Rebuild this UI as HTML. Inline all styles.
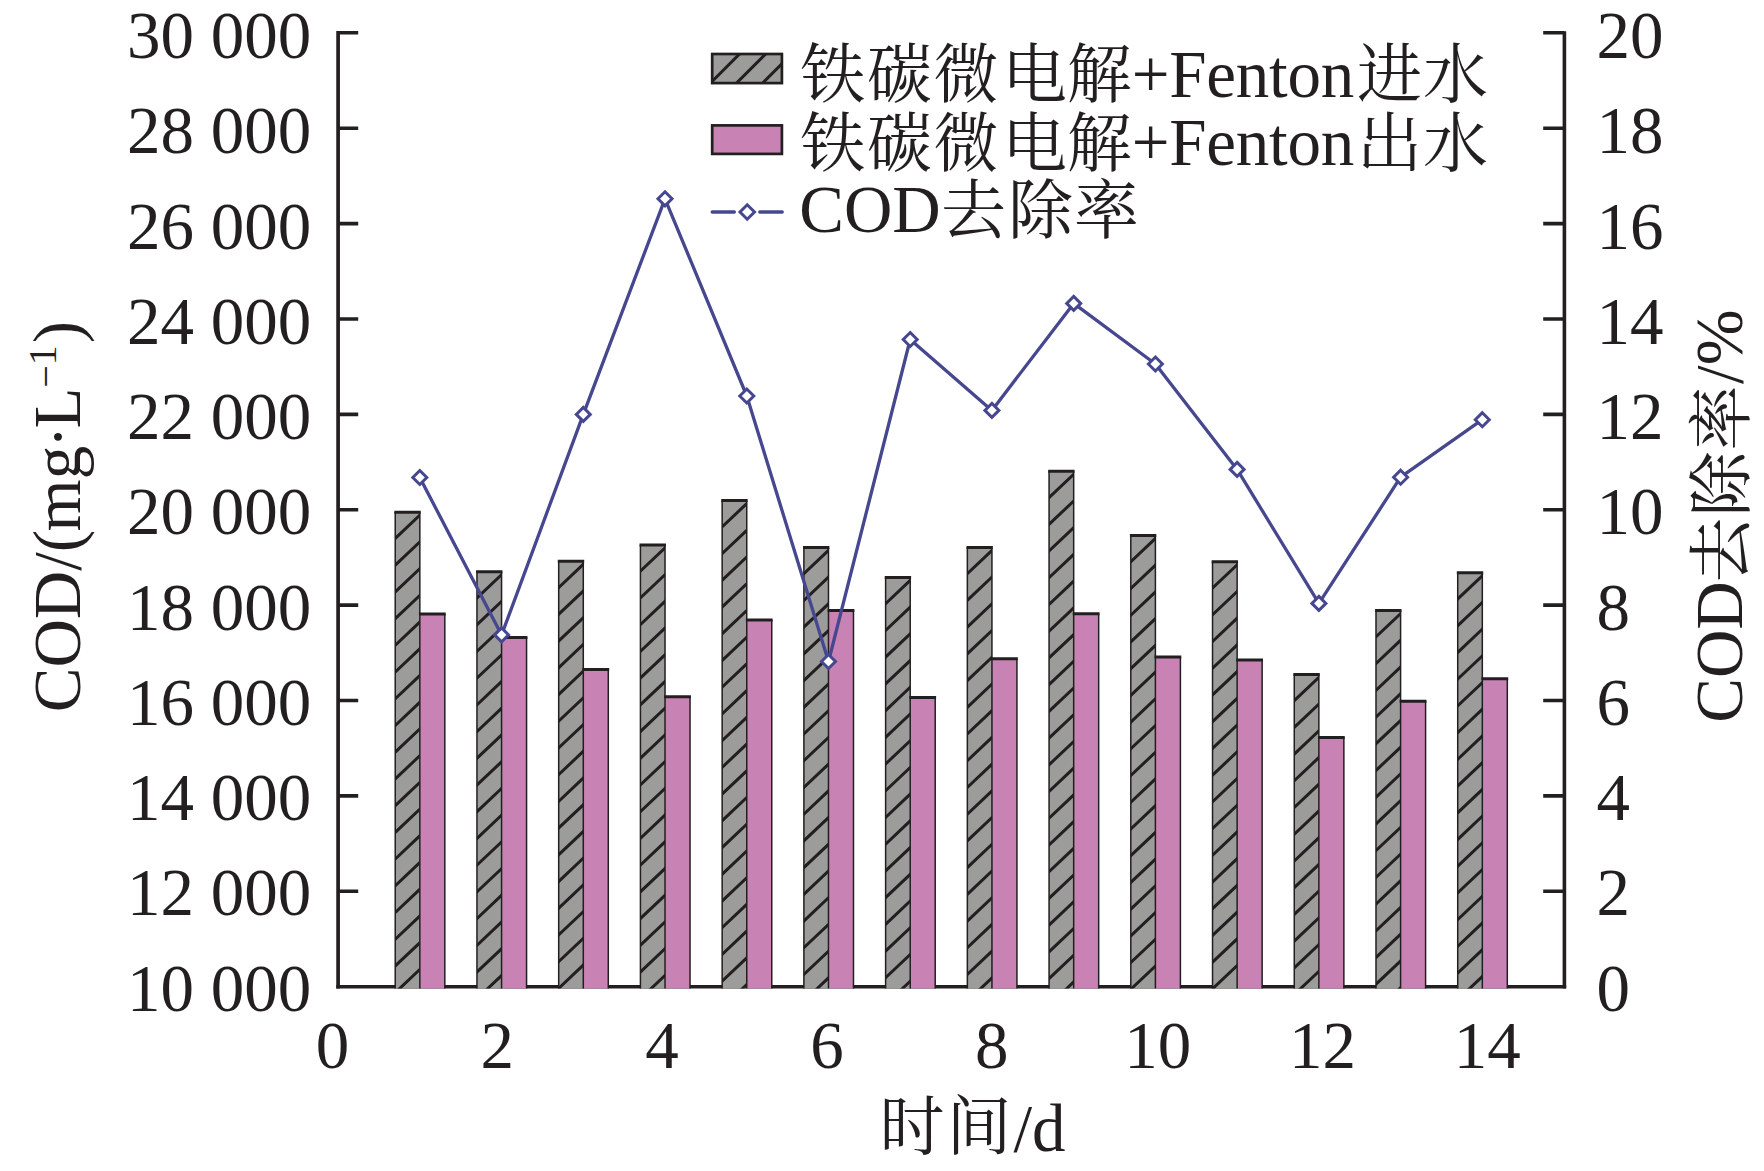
<!DOCTYPE html>
<html lang="zh"><head><meta charset="utf-8"><title>COD</title>
<style>html,body{margin:0;padding:0;background:#fff}body{width:1764px;height:1171px;overflow:hidden}svg{display:block}text{font-family:"Liberation Serif","Noto Serif CJK SC",serif;font-size:67px;fill:#231f20}.cj{font-size:65px}</style>
</head><body>
<svg width="1764" height="1171" viewBox="0 0 1764 1171">
<rect width="1764" height="1171" fill="#fff"/>
<g stroke="#231f20" fill="none" stroke-linecap="butt">
<path d="M338.1 31V988.4" stroke-width="3.7"/>
<path d="M1564.4 31.2V988.4" stroke-width="3.6"/>
<path d="M336.25 986.7H1566.2" stroke-width="3.5"/>
<path d="M338 891.3H358.2M1543.2 891.3H1564.4M338 795.9H358.2M1543.2 795.9H1564.4M338 700.5H358.2M1543.2 700.5H1564.4M338 605.1H358.2M1543.2 605.1H1564.4M338 509.8H358.2M1543.2 509.8H1564.4M338 414.4H358.2M1543.2 414.4H1564.4M338 319.0H358.2M1543.2 319.0H1564.4M338 223.6H358.2M1543.2 223.6H1564.4M338 128.2H358.2M1543.2 128.2H1564.4M338 32.8H358.2M1543.2 32.8H1564.4" stroke-width="3.6"/>
</g>
<defs>
<clipPath id="c0"><rect x="395.23" y="512.2" width="24.60" height="476.2"/></clipPath>
<clipPath id="c1"><rect x="476.96" y="571.7" width="24.60" height="416.7"/></clipPath>
<clipPath id="c2"><rect x="558.69" y="561.3" width="24.60" height="427.1"/></clipPath>
<clipPath id="c3"><rect x="640.42" y="544.9" width="24.60" height="443.5"/></clipPath>
<clipPath id="c4"><rect x="722.15" y="500.6" width="24.60" height="487.8"/></clipPath>
<clipPath id="c5"><rect x="803.88" y="547.4" width="24.60" height="441.0"/></clipPath>
<clipPath id="c6"><rect x="885.61" y="577.4" width="24.60" height="411.0"/></clipPath>
<clipPath id="c7"><rect x="967.34" y="547.4" width="24.60" height="441.0"/></clipPath>
<clipPath id="c8"><rect x="1049.07" y="471.3" width="24.60" height="517.1"/></clipPath>
<clipPath id="c9"><rect x="1130.80" y="535.5" width="24.60" height="452.9"/></clipPath>
<clipPath id="c10"><rect x="1212.53" y="561.8" width="24.60" height="426.6"/></clipPath>
<clipPath id="c11"><rect x="1294.26" y="674.4" width="24.60" height="314.0"/></clipPath>
<clipPath id="c12"><rect x="1375.99" y="610.6" width="24.60" height="377.8"/></clipPath>
<clipPath id="c13"><rect x="1457.72" y="572.7" width="24.60" height="415.7"/></clipPath>
</defs>
<g>
<rect x="395.23" y="512.2" width="24.60" height="476.2" fill="#9c9c9b"/>
<path d="M422.83 512.37L392.23 541.28M422.83 539.09L392.23 568.00M422.83 565.81L392.23 594.72M422.83 592.53L392.23 621.44M422.83 619.25L392.23 648.16M422.83 645.97L392.23 674.88M422.83 672.69L392.23 701.60M422.83 699.41L392.23 728.32M422.83 726.13L392.23 755.04M422.83 752.85L392.23 781.76M422.83 779.57L392.23 808.48M422.83 806.29L392.23 835.20M422.83 833.01L392.23 861.92M422.83 859.73L392.23 888.64M422.83 886.45L392.23 915.36M422.83 913.17L392.23 942.08M422.83 939.89L392.23 968.80M422.83 966.61L392.23 995.52M422.83 993.33L392.23 1022.24" stroke="#231f20" stroke-width="3" fill="none" clip-path="url(#c0)"/>
<rect x="419.83" y="614.0" width="25.00" height="374.4" fill="#c882b3"/>
<path d="M395.23 512.2V988.4M419.83 512.2V988.4M444.83 614.0V988.4" stroke="#231f20" stroke-width="1.5" fill="none"/>
<path d="M394.33 512.2H420.73M418.93 614.0H445.73" stroke="#231f20" stroke-width="3" fill="none"/>
</g>
<g>
<rect x="476.96" y="571.7" width="24.60" height="416.7" fill="#9c9c9b"/>
<path d="M504.56 571.87L473.96 600.78M504.56 598.59L473.96 627.50M504.56 625.31L473.96 654.22M504.56 652.03L473.96 680.94M504.56 678.75L473.96 707.66M504.56 705.47L473.96 734.38M504.56 732.19L473.96 761.10M504.56 758.91L473.96 787.82M504.56 785.63L473.96 814.54M504.56 812.35L473.96 841.26M504.56 839.07L473.96 867.98M504.56 865.79L473.96 894.70M504.56 892.51L473.96 921.42M504.56 919.23L473.96 948.14M504.56 945.95L473.96 974.86M504.56 972.67L473.96 1001.58M504.56 999.39L473.96 1028.30" stroke="#231f20" stroke-width="3" fill="none" clip-path="url(#c1)"/>
<rect x="501.56" y="637.6" width="25.00" height="350.8" fill="#c882b3"/>
<path d="M476.96 571.7V988.4M501.56 571.7V988.4M526.56 637.6V988.4" stroke="#231f20" stroke-width="1.5" fill="none"/>
<path d="M476.06 571.7H502.46M500.66 637.6H527.46" stroke="#231f20" stroke-width="3" fill="none"/>
</g>
<g>
<rect x="558.69" y="561.3" width="24.60" height="427.1" fill="#9c9c9b"/>
<path d="M586.29 561.46L555.69 590.38M586.29 588.18L555.69 617.10M586.29 614.90L555.69 643.82M586.29 641.62L555.69 670.54M586.29 668.35L555.69 697.26M586.29 695.07L555.69 723.98M586.29 721.79L555.69 750.70M586.29 748.51L555.69 777.42M586.29 775.23L555.69 804.14M586.29 801.95L555.69 830.86M586.29 828.67L555.69 857.58M586.29 855.39L555.69 884.30M586.29 882.11L555.69 911.02M586.29 908.83L555.69 937.74M586.29 935.55L555.69 964.46M586.29 962.27L555.69 991.18M586.29 988.99L555.69 1017.90M586.29 1015.71L555.69 1044.62" stroke="#231f20" stroke-width="3" fill="none" clip-path="url(#c2)"/>
<rect x="583.29" y="669.4" width="25.00" height="319.0" fill="#c882b3"/>
<path d="M558.69 561.3V988.4M583.29 561.3V988.4M608.29 669.4V988.4" stroke="#231f20" stroke-width="1.5" fill="none"/>
<path d="M557.79 561.3H584.19M582.39 669.4H609.19" stroke="#231f20" stroke-width="3" fill="none"/>
</g>
<g>
<rect x="640.42" y="544.9" width="24.60" height="443.5" fill="#9c9c9b"/>
<path d="M668.02 545.06L637.42 573.98M668.02 571.78L637.42 600.70M668.02 598.50L637.42 627.42M668.02 625.23L637.42 654.14M668.02 651.95L637.42 680.86M668.02 678.67L637.42 707.58M668.02 705.39L637.42 734.30M668.02 732.11L637.42 761.02M668.02 758.83L637.42 787.74M668.02 785.55L637.42 814.46M668.02 812.27L637.42 841.18M668.02 838.99L637.42 867.90M668.02 865.71L637.42 894.62M668.02 892.43L637.42 921.34M668.02 919.15L637.42 948.06M668.02 945.87L637.42 974.78M668.02 972.59L637.42 1001.50M668.02 999.31L637.42 1028.22" stroke="#231f20" stroke-width="3" fill="none" clip-path="url(#c3)"/>
<rect x="665.02" y="696.7" width="25.00" height="291.7" fill="#c882b3"/>
<path d="M640.42 544.9V988.4M665.02 544.9V988.4M690.02 696.7V988.4" stroke="#231f20" stroke-width="1.5" fill="none"/>
<path d="M639.52 544.9H665.92M664.12 696.7H690.92" stroke="#231f20" stroke-width="3" fill="none"/>
</g>
<g>
<rect x="722.15" y="500.6" width="24.60" height="487.8" fill="#9c9c9b"/>
<path d="M749.75 500.77L719.15 529.68M749.75 527.49L719.15 556.40M749.75 554.21L719.15 583.12M749.75 580.93L719.15 609.84M749.75 607.65L719.15 636.56M749.75 634.37L719.15 663.28M749.75 661.09L719.15 690.00M749.75 687.81L719.15 716.72M749.75 714.53L719.15 743.44M749.75 741.25L719.15 770.16M749.75 767.97L719.15 796.88M749.75 794.69L719.15 823.60M749.75 821.41L719.15 850.32M749.75 848.13L719.15 877.04M749.75 874.85L719.15 903.76M749.75 901.57L719.15 930.48M749.75 928.29L719.15 957.20M749.75 955.01L719.15 983.92M749.75 981.73L719.15 1010.64M749.75 1008.45L719.15 1037.36" stroke="#231f20" stroke-width="3" fill="none" clip-path="url(#c4)"/>
<rect x="746.75" y="620.1" width="25.00" height="368.3" fill="#c882b3"/>
<path d="M722.15 500.6V988.4M746.75 500.6V988.4M771.75 620.1V988.4" stroke="#231f20" stroke-width="1.5" fill="none"/>
<path d="M721.25 500.6H747.65M745.85 620.1H772.65" stroke="#231f20" stroke-width="3" fill="none"/>
</g>
<g>
<rect x="803.88" y="547.4" width="24.60" height="441.0" fill="#9c9c9b"/>
<path d="M831.48 547.56L800.88 576.48M831.48 574.28L800.88 603.20M831.48 601.00L800.88 629.92M831.48 627.73L800.88 656.64M831.48 654.45L800.88 683.36M831.48 681.17L800.88 710.08M831.48 707.89L800.88 736.80M831.48 734.61L800.88 763.52M831.48 761.33L800.88 790.24M831.48 788.05L800.88 816.96M831.48 814.77L800.88 843.68M831.48 841.49L800.88 870.40M831.48 868.21L800.88 897.12M831.48 894.93L800.88 923.84M831.48 921.65L800.88 950.56M831.48 948.37L800.88 977.28M831.48 975.09L800.88 1004.00M831.48 1001.81L800.88 1030.72" stroke="#231f20" stroke-width="3" fill="none" clip-path="url(#c5)"/>
<rect x="828.48" y="610.4" width="25.00" height="378.0" fill="#c882b3"/>
<path d="M803.88 547.4V988.4M828.48 547.4V988.4M853.48 610.4V988.4" stroke="#231f20" stroke-width="1.5" fill="none"/>
<path d="M802.98 547.4H829.38M827.58 610.4H854.38" stroke="#231f20" stroke-width="3" fill="none"/>
</g>
<g>
<rect x="885.61" y="577.4" width="24.60" height="411.0" fill="#9c9c9b"/>
<path d="M913.21 577.56L882.61 606.48M913.21 604.28L882.61 633.20M913.21 631.00L882.61 659.92M913.21 657.73L882.61 686.64M913.21 684.45L882.61 713.36M913.21 711.17L882.61 740.08M913.21 737.89L882.61 766.80M913.21 764.61L882.61 793.52M913.21 791.33L882.61 820.24M913.21 818.05L882.61 846.96M913.21 844.77L882.61 873.68M913.21 871.49L882.61 900.40M913.21 898.21L882.61 927.12M913.21 924.93L882.61 953.84M913.21 951.65L882.61 980.56M913.21 978.37L882.61 1007.28M913.21 1005.09L882.61 1034.00" stroke="#231f20" stroke-width="3" fill="none" clip-path="url(#c6)"/>
<rect x="910.21" y="697.4" width="25.00" height="291.0" fill="#c882b3"/>
<path d="M885.61 577.4V988.4M910.21 577.4V988.4M935.21 697.4V988.4" stroke="#231f20" stroke-width="1.5" fill="none"/>
<path d="M884.71 577.4H911.11M909.31 697.4H936.11" stroke="#231f20" stroke-width="3" fill="none"/>
</g>
<g>
<rect x="967.34" y="547.4" width="24.60" height="441.0" fill="#9c9c9b"/>
<path d="M994.94 547.56L964.34 576.48M994.94 574.28L964.34 603.20M994.94 601.00L964.34 629.92M994.94 627.73L964.34 656.64M994.94 654.45L964.34 683.36M994.94 681.17L964.34 710.08M994.94 707.89L964.34 736.80M994.94 734.61L964.34 763.52M994.94 761.33L964.34 790.24M994.94 788.05L964.34 816.96M994.94 814.77L964.34 843.68M994.94 841.49L964.34 870.40M994.94 868.21L964.34 897.12M994.94 894.93L964.34 923.84M994.94 921.65L964.34 950.56M994.94 948.37L964.34 977.28M994.94 975.09L964.34 1004.00M994.94 1001.81L964.34 1030.72" stroke="#231f20" stroke-width="3" fill="none" clip-path="url(#c7)"/>
<rect x="991.94" y="658.7" width="25.00" height="329.7" fill="#c882b3"/>
<path d="M967.34 547.4V988.4M991.94 547.4V988.4M1016.94 658.7V988.4" stroke="#231f20" stroke-width="1.5" fill="none"/>
<path d="M966.44 547.4H992.84M991.04 658.7H1017.84" stroke="#231f20" stroke-width="3" fill="none"/>
</g>
<g>
<rect x="1049.07" y="471.3" width="24.60" height="517.1" fill="#9c9c9b"/>
<path d="M1076.67 471.47L1046.07 500.38M1076.67 498.19L1046.07 527.10M1076.67 524.90L1046.07 553.82M1076.67 551.62L1046.07 580.54M1076.67 578.35L1046.07 607.26M1076.67 605.07L1046.07 633.98M1076.67 631.79L1046.07 660.70M1076.67 658.51L1046.07 687.42M1076.67 685.23L1046.07 714.14M1076.67 711.95L1046.07 740.86M1076.67 738.67L1046.07 767.58M1076.67 765.39L1046.07 794.30M1076.67 792.11L1046.07 821.02M1076.67 818.83L1046.07 847.74M1076.67 845.55L1046.07 874.46M1076.67 872.27L1046.07 901.18M1076.67 898.99L1046.07 927.90M1076.67 925.71L1046.07 954.62M1076.67 952.43L1046.07 981.34M1076.67 979.15L1046.07 1008.06M1076.67 1005.87L1046.07 1034.78" stroke="#231f20" stroke-width="3" fill="none" clip-path="url(#c8)"/>
<rect x="1073.67" y="613.8" width="25.00" height="374.6" fill="#c882b3"/>
<path d="M1049.07 471.3V988.4M1073.67 471.3V988.4M1098.67 613.8V988.4" stroke="#231f20" stroke-width="1.5" fill="none"/>
<path d="M1048.17 471.3H1074.57M1072.77 613.8H1099.57" stroke="#231f20" stroke-width="3" fill="none"/>
</g>
<g>
<rect x="1130.80" y="535.5" width="24.60" height="452.9" fill="#9c9c9b"/>
<path d="M1158.40 535.66L1127.80 564.58M1158.40 562.38L1127.80 591.30M1158.40 589.11L1127.80 618.02M1158.40 615.83L1127.80 644.74M1158.40 642.55L1127.80 671.46M1158.40 669.27L1127.80 698.18M1158.40 695.99L1127.80 724.90M1158.40 722.71L1127.80 751.62M1158.40 749.43L1127.80 778.34M1158.40 776.15L1127.80 805.06M1158.40 802.87L1127.80 831.78M1158.40 829.59L1127.80 858.50M1158.40 856.31L1127.80 885.22M1158.40 883.03L1127.80 911.94M1158.40 909.75L1127.80 938.66M1158.40 936.47L1127.80 965.38M1158.40 963.19L1127.80 992.10M1158.40 989.91L1127.80 1018.82" stroke="#231f20" stroke-width="3" fill="none" clip-path="url(#c9)"/>
<rect x="1155.40" y="657.0" width="25.00" height="331.4" fill="#c882b3"/>
<path d="M1130.80 535.5V988.4M1155.40 535.5V988.4M1180.40 657.0V988.4" stroke="#231f20" stroke-width="1.5" fill="none"/>
<path d="M1129.90 535.5H1156.30M1154.50 657.0H1181.30" stroke="#231f20" stroke-width="3" fill="none"/>
</g>
<g>
<rect x="1212.53" y="561.8" width="24.60" height="426.6" fill="#9c9c9b"/>
<path d="M1240.13 561.96L1209.53 590.88M1240.13 588.68L1209.53 617.60M1240.13 615.40L1209.53 644.32M1240.13 642.12L1209.53 671.04M1240.13 668.85L1209.53 697.76M1240.13 695.57L1209.53 724.48M1240.13 722.29L1209.53 751.20M1240.13 749.01L1209.53 777.92M1240.13 775.73L1209.53 804.64M1240.13 802.45L1209.53 831.36M1240.13 829.17L1209.53 858.08M1240.13 855.89L1209.53 884.80M1240.13 882.61L1209.53 911.52M1240.13 909.33L1209.53 938.24M1240.13 936.05L1209.53 964.96M1240.13 962.77L1209.53 991.68M1240.13 989.49L1209.53 1018.40" stroke="#231f20" stroke-width="3" fill="none" clip-path="url(#c10)"/>
<rect x="1237.13" y="659.9" width="25.00" height="328.5" fill="#c882b3"/>
<path d="M1212.53 561.8V988.4M1237.13 561.8V988.4M1262.13 659.9V988.4" stroke="#231f20" stroke-width="1.5" fill="none"/>
<path d="M1211.63 561.8H1238.03M1236.23 659.9H1263.03" stroke="#231f20" stroke-width="3" fill="none"/>
</g>
<g>
<rect x="1294.26" y="674.4" width="24.60" height="314.0" fill="#9c9c9b"/>
<path d="M1321.86 674.56L1291.26 703.48M1321.86 701.28L1291.26 730.20M1321.86 728.00L1291.26 756.92M1321.86 754.73L1291.26 783.64M1321.86 781.45L1291.26 810.36M1321.86 808.17L1291.26 837.08M1321.86 834.89L1291.26 863.80M1321.86 861.61L1291.26 890.52M1321.86 888.33L1291.26 917.24M1321.86 915.05L1291.26 943.96M1321.86 941.77L1291.26 970.68M1321.86 968.49L1291.26 997.40M1321.86 995.21L1291.26 1024.12" stroke="#231f20" stroke-width="3" fill="none" clip-path="url(#c11)"/>
<rect x="1318.86" y="737.6" width="25.00" height="250.8" fill="#c882b3"/>
<path d="M1294.26 674.4V988.4M1318.86 674.4V988.4M1343.86 737.6V988.4" stroke="#231f20" stroke-width="1.5" fill="none"/>
<path d="M1293.36 674.4H1319.76M1317.96 737.6H1344.76" stroke="#231f20" stroke-width="3" fill="none"/>
</g>
<g>
<rect x="1375.99" y="610.6" width="24.60" height="377.8" fill="#9c9c9b"/>
<path d="M1403.59 610.76L1372.99 639.68M1403.59 637.49L1372.99 666.40M1403.59 664.21L1372.99 693.12M1403.59 690.93L1372.99 719.84M1403.59 717.65L1372.99 746.56M1403.59 744.37L1372.99 773.28M1403.59 771.09L1372.99 800.00M1403.59 797.81L1372.99 826.72M1403.59 824.53L1372.99 853.44M1403.59 851.25L1372.99 880.16M1403.59 877.97L1372.99 906.88M1403.59 904.69L1372.99 933.60M1403.59 931.41L1372.99 960.32M1403.59 958.13L1372.99 987.04M1403.59 984.85L1372.99 1013.76M1403.59 1011.57L1372.99 1040.48" stroke="#231f20" stroke-width="3" fill="none" clip-path="url(#c12)"/>
<rect x="1400.59" y="701.2" width="25.00" height="287.2" fill="#c882b3"/>
<path d="M1375.99 610.6V988.4M1400.59 610.6V988.4M1425.59 701.2V988.4" stroke="#231f20" stroke-width="1.5" fill="none"/>
<path d="M1375.09 610.6H1401.49M1399.69 701.2H1426.49" stroke="#231f20" stroke-width="3" fill="none"/>
</g>
<g>
<rect x="1457.72" y="572.7" width="24.60" height="415.7" fill="#9c9c9b"/>
<path d="M1485.32 572.87L1454.72 601.78M1485.32 599.59L1454.72 628.50M1485.32 626.31L1454.72 655.22M1485.32 653.03L1454.72 681.94M1485.32 679.75L1454.72 708.66M1485.32 706.47L1454.72 735.38M1485.32 733.19L1454.72 762.10M1485.32 759.91L1454.72 788.82M1485.32 786.63L1454.72 815.54M1485.32 813.35L1454.72 842.26M1485.32 840.07L1454.72 868.98M1485.32 866.79L1454.72 895.70M1485.32 893.51L1454.72 922.42M1485.32 920.23L1454.72 949.14M1485.32 946.95L1454.72 975.86M1485.32 973.67L1454.72 1002.58M1485.32 1000.39L1454.72 1029.30" stroke="#231f20" stroke-width="3" fill="none" clip-path="url(#c13)"/>
<rect x="1482.32" y="678.8" width="25.00" height="309.6" fill="#c882b3"/>
<path d="M1457.72 572.7V988.4M1482.32 572.7V988.4M1507.32 678.8V988.4" stroke="#231f20" stroke-width="1.5" fill="none"/>
<path d="M1456.82 572.7H1483.22M1481.42 678.8H1508.22" stroke="#231f20" stroke-width="3" fill="none"/>
</g>
<polyline points="419.8,477.5 501.6,634.9 583.3,414.4 665.0,198.8 746.8,396.0 828.5,661.5 910.2,339.5 991.9,410.4 1073.7,303.4 1155.4,364.0 1237.1,469.4 1318.9,603.4 1400.6,477.2 1482.3,419.7" fill="none" stroke="#46478f" stroke-width="3.3" stroke-linejoin="round"/>
<path d="M419.8 470.5L426.8 477.5L419.8 484.5L412.8 477.5ZM501.6 627.9L508.6 634.9L501.6 641.9L494.6 634.9ZM583.3 407.4L590.3 414.4L583.3 421.4L576.3 414.4ZM665.0 191.8L672.0 198.8L665.0 205.8L658.0 198.8ZM746.8 389.0L753.8 396.0L746.8 403.0L739.8 396.0ZM828.5 654.5L835.5 661.5L828.5 668.5L821.5 661.5ZM910.2 332.5L917.2 339.5L910.2 346.5L903.2 339.5ZM991.9 403.4L998.9 410.4L991.9 417.4L984.9 410.4ZM1073.7 296.4L1080.7 303.4L1073.7 310.4L1066.7 303.4ZM1155.4 357.0L1162.4 364.0L1155.4 371.0L1148.4 364.0ZM1237.1 462.4L1244.1 469.4L1237.1 476.4L1230.1 469.4ZM1318.9 596.4L1325.9 603.4L1318.9 610.4L1311.9 603.4ZM1400.6 470.2L1407.6 477.2L1400.6 484.2L1393.6 477.2ZM1482.3 412.7L1489.3 419.7L1482.3 426.7L1475.3 419.7Z" fill="#fff" stroke="#46478f" stroke-width="3" stroke-linejoin="miter"/>
<text x="311.3" y="1010.6" text-anchor="end">10 000</text>
<text x="311.3" y="915.4" text-anchor="end">12 000</text>
<text x="311.3" y="820.1" text-anchor="end">14 000</text>
<text x="311.3" y="724.9" text-anchor="end">16 000</text>
<text x="311.3" y="629.6" text-anchor="end">18 000</text>
<text x="311.3" y="534.4" text-anchor="end">20 000</text>
<text x="311.3" y="439.2" text-anchor="end">22 000</text>
<text x="311.3" y="343.9" text-anchor="end">24 000</text>
<text x="311.3" y="248.7" text-anchor="end">26 000</text>
<text x="311.3" y="153.4" text-anchor="end">28 000</text>
<text x="311.3" y="58.2" text-anchor="end">30 000</text>
<text x="1596.5" y="1010.6">0</text>
<text x="1596.5" y="915.4">2</text>
<text x="1596.5" y="820.1">4</text>
<text x="1596.5" y="724.9">6</text>
<text x="1596.5" y="629.6">8</text>
<text x="1596.5" y="534.4">10</text>
<text x="1596.5" y="439.2">12</text>
<text x="1596.5" y="343.9">14</text>
<text x="1596.5" y="248.7">16</text>
<text x="1596.5" y="153.4">18</text>
<text x="1596.5" y="58.2">20</text>
<text x="332.5" y="1068.2" text-anchor="middle">0</text>
<text x="497.3" y="1068.2" text-anchor="middle">2</text>
<text x="662.1" y="1068.2" text-anchor="middle">4</text>
<text x="826.9" y="1068.2" text-anchor="middle">6</text>
<text x="991.7" y="1068.2" text-anchor="middle">8</text>
<text x="1157.7" y="1068.2" text-anchor="middle">10</text>
<text x="1322.5" y="1068.2" text-anchor="middle">12</text>
<text x="1487.3" y="1068.2" text-anchor="middle">14</text>
<text><tspan class="cj" x="879.5" y="1149.2">时</tspan><tspan class="cj" x="946.5" y="1149.2">间</tspan><tspan x="1013.5" y="1150.6">/d</tspan></text>
<text transform="translate(80.2 712.3) rotate(-90)"><tspan x="0">COD/(</tspan><tspan x="180.9">m</tspan><tspan x="233">g</tspan><tspan x="264.3">·</tspan><tspan x="283.8">L</tspan><tspan x="324.6" font-size="40" dy="-21.2">−</tspan><tspan font-size="40" dy="-3">1</tspan><tspan x="369" dy="24.2">)</tspan></text>
<text transform="translate(1741.5 722.8) rotate(-90)"><tspan x="0" y="0">COD</tspan><tspan class="cj" x="140.3" y="2.5">去</tspan><tspan class="cj" x="206.3" y="2.5">除</tspan><tspan class="cj" x="272.3" y="2.5">率</tspan><tspan x="338.9" y="0">/%</tspan></text>
<g>
<clipPath id="lc"><rect x="712.2" y="54" width="69.7" height="29.1"/></clipPath>
<rect x="712.2" y="54" width="69.7" height="29.1" fill="#9c9c9b"/>
<path d="M743.1 50.4L703.1 90.4M769.2 50.4L729.2 90.4M795.3 50.4L755.3 90.4" stroke="#231f20" stroke-width="3" fill="none" clip-path="url(#lc)"/>
<rect x="712.2" y="54" width="69.7" height="29.1" fill="none" stroke="#231f20" stroke-width="2.7"/>
<rect x="712.2" y="125.4" width="69.7" height="28.5" fill="#c882b3" stroke="#231f20" stroke-width="2.7"/>
<path d="M712.2 212H734.3M759.8 212H782.2" stroke="#46478f" stroke-width="3.4" fill="none" stroke-linecap="round"/>
<path d="M747.2 204.8L754.5 212.0L747.2 219.2L740.0 212.0Z" fill="#fff" stroke="#46478f" stroke-width="3"/>
<text><tspan class="cj" x="800.3" y="97.1">铁</tspan><tspan class="cj" x="867" y="97.1">碳</tspan><tspan class="cj" x="933.6" y="97.1">微</tspan><tspan class="cj" x="1002" y="97.1">电</tspan><tspan class="cj" x="1066.8" y="97.1">解</tspan><tspan x="1131.7" y="96.6" textLength="222.5">+Fenton</tspan><tspan class="cj" x="1357" y="97.1">进</tspan><tspan class="cj" x="1423" y="97.1">水</tspan></text>
<text><tspan class="cj" x="800.3" y="165.8">铁</tspan><tspan class="cj" x="867" y="165.8">碳</tspan><tspan class="cj" x="933.6" y="165.8">微</tspan><tspan class="cj" x="1002" y="165.8">电</tspan><tspan class="cj" x="1066.8" y="165.8">解</tspan><tspan x="1131.7" y="165.3" textLength="222.5">+Fenton</tspan><tspan class="cj" x="1357" y="165.8">出</tspan><tspan class="cj" x="1423" y="165.8">水</tspan></text>
<text><tspan x="799.3" y="232.2">COD</tspan><tspan class="cj" x="941" y="232.9">去</tspan><tspan class="cj" x="1008" y="232.9">除</tspan><tspan class="cj" x="1074" y="232.9">率</tspan></text>
</g>
</svg>
</body></html>
